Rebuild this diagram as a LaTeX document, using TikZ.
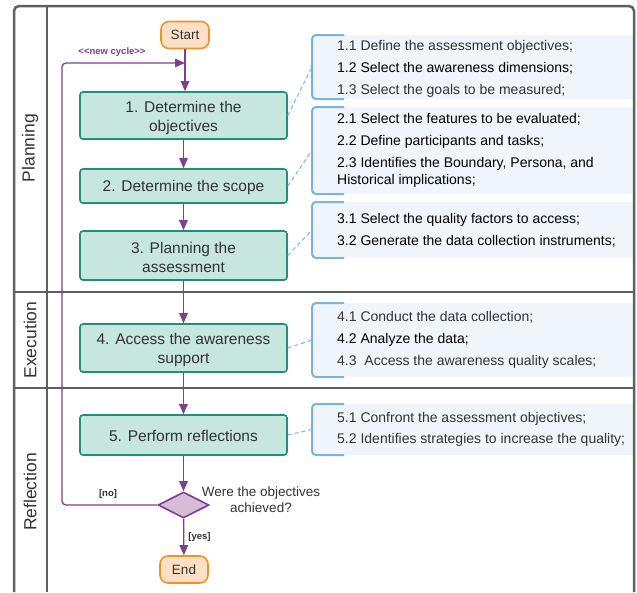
\documentclass[tikz,border=0pt]{standalone}
\usepackage{fontspec}
\setmainfont{Liberation Sans}
\usetikzlibrary{arrows.meta,shapes.geometric}
\definecolor{frame}{HTML}{5F5F5F}
\definecolor{boxfill}{HTML}{C6E6DE}
\definecolor{boxline}{HTML}{1E9079}
\definecolor{termfill}{HTML}{FCE0C6}
\definecolor{termline}{HTML}{F0922A}
\definecolor{flow}{HTML}{7E3F8E}
\definecolor{diafill}{HTML}{D5BDD7}
\definecolor{callfill}{HTML}{EFF5FA}
\definecolor{callline}{HTML}{7AB3E2}
\definecolor{txt}{HTML}{333333}
\tikzset{
  stepbox/.style={draw=boxline,fill=boxfill,line width=1.6pt,rounded corners=3pt,minimum width=207pt,align=center,text=txt,font=\fontsize{15.5}{19}\selectfont,inner sep=0pt},
  term/.style={draw=termline,fill=termfill,line width=1.6pt,rounded corners=8pt,minimum width=48pt,minimum height=27pt,text=txt,font=\fontsize{13.5}{16}\selectfont,inner sep=0pt},
  decide/.style={diamond,draw=flow,fill=diafill,line width=1.6pt,minimum width=51pt,minimum height=26pt,inner sep=0pt,aspect=2},
  arr/.style={draw=flow,line width=1.3pt,-{Triangle[length=10pt,width=8.5pt]}},
  lane/.style={rotate=90,text=txt,font=\fontsize{17.5}{20}\selectfont},
  calltext/.style={anchor=west,inner sep=0pt,text=txt,font=\fontsize{14}{17}\selectfont,align=left,yshift=-1.5pt},
  bracket/.style={draw=callline,line width=2pt,rounded corners=4pt},
  link/.style={draw=callline,line width=1pt,dashed,dash pattern=on 4pt off 3pt},
  small/.style={font=\bfseries\fontsize{9.5}{11}\selectfont,inner sep=0pt},
}
\begin{document}
\begin{tikzpicture}[x=1pt,y=-1pt]
\useasboundingbox (0,0) rectangle (637,592);
% callout backgrounds and brackets
\foreach \ya/\yb/\n in {35/99/1,107/194/2,202/258/3,303/377/4,404/455/5}{
  \fill[callfill] (312,\ya) rectangle (633,\yb);
  \draw[bracket] (344,\ya) -- (312,\ya) -- (312,\yb) -- (344,\yb);
  \coordinate (c\n) at (312,{(\ya+\yb)/2});
}
% frame
\draw[frame,line width=2.5pt,rounded corners=5pt] (14,592) -- (14,6) -- (634,6) -- (634,592);
\draw[frame,line width=2.5pt] (47,6) -- (47,592);
\draw[frame,line width=2.5pt] (14,292) -- (634,292);
\draw[frame,line width=2.5pt] (14,388) -- (634,388);
% lane labels
\node[lane] (l1) at (30,148) {Planning};
\node[lane] (l2) at (30,340) {Execution};
\node[lane] (l3) at (30,492) {Reflection};
% flow nodes
\node[term] (start) at (185,35) {Start};
\node[stepbox,minimum height=47pt] (b1) at (183.5,115.5) {\rule{0pt}{16pt}1. Determine the\\objectives};
\node[stepbox,minimum height=34pt] (b2) at (183.5,186) {\rule{0pt}{14pt}2. Determine the scope};
\node[stepbox,minimum height=49pt] (b3) at (183.5,255.5) {\rule{0pt}{16pt}3. Planning the\\assessment};
\node[stepbox,minimum height=48pt] (b4) at (183.5,348) {\rule{0pt}{16pt}4. Access the awareness\\support};
\node[stepbox,minimum height=40pt] (b5) at (183.5,435) {\rule{0pt}{14pt}5. Perform reflections};
\node[decide] (dia) at (183.5,505) {};
\node[term] (end) at (184,569.5) {End};
\node[align=center,text=txt,font=\fontsize{13.5}{16}\selectfont,inner sep=0pt] (q) at (261,500) {Were the objectives\\achieved?};
% connectors
\coordinate (nc) at (185,63);
\draw[arr] (start) -- (b1.north -| start);
\draw[arr] (b1) -- (b2);
\draw[arr] (b2) -- (b3);
\draw[arr] (b3) -- (b4);
\draw[arr] (b4) -- (b5);
\draw[arr] (b5) -- (dia);
\draw[arr] (dia) -- node[small,right=4pt,text=txt] (yes) {[yes]} (end);
\draw[arr,rounded corners=4pt] (dia.west) -- (62,505) -- (62,63) -- (nc);
\node[small,text=txt] (no) at (108,494) {[no]};
\node[small,text=flow] (ncl) at (112,52) {{<}{<}new cycle{>}{>}};
% dashed links
\draw[link] (b1.east) -- (c1);
\draw[link] (b2.east) -- (c2);
\draw[link] (b3.east) -- (c3);
\draw[link] (b4.east) -- (c4);
\draw[link] (b5.east) -- (c5);
% callout texts
\node[calltext] (t11) at (337,45) {1.1 Define the assessment objectives;};
\node[calltext,text=black] (t12) at (337,67) {1.2 Select the awareness dimensions;};
\node[calltext] (t13) at (337,89) {1.3 Select the goals to be measured;};
\node[calltext,text=black] (t21) at (337,118) {2.1 Select the features to be evaluated;};
\node[calltext,text=black] (t22) at (337,140) {2.2 Define participants and tasks;};
\node[calltext,text=black] (t23) at (337,170.5) {2.3 Identifies the Boundary, Persona, and\\Historical implications;};
\node[calltext,text=black] (t31) at (337,218) {3.1 Select the quality factors to access;};
\node[calltext,text=black] (t32) at (337,240) {3.2 Generate the data collection instruments;};
\node[calltext] (t41) at (337,316) {4.1 Conduct the data collection;};
\node[calltext,text=black] (t42) at (337,338) {4.2 Analyze the data;};
\node[calltext] (t43) at (337,360) {4.3\ \ Access the awareness quality scales;};
\node[calltext] (t51) at (337,417) {5.1 Confront the assessment objectives;};
\node[calltext] (t52) at (337,438) {5.2 Identifies strategies to increase the quality;};
\end{tikzpicture}
\end{document}
